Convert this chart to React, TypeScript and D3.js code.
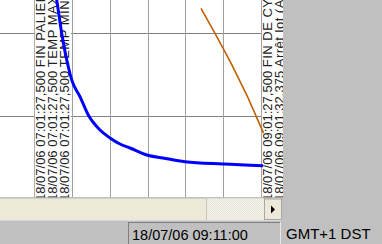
import React from "react";
import * as d3 from "d3";

const DAY = "2006-07-18T";

// Blue series (temperature, decay)
const blueTimes = ["07:10:15", "07:11:58", "07:14:36", "07:18:05", "07:19:53", "07:24:16", "07:28:39", "07:34:50", "07:40:07", "07:45:24", "07:50:41", "07:59:31", "08:08:08", "08:19:45", "08:39:50", "09:01:00"];
const blueValues = [264, 240, 200, 159.5, 143.6, 123.4, 101.3, 83.2, 73.6, 66.3, 61.5, 53.1, 49.5, 45, 42.2, 40.2];

// Orange series (ramp)
const orangeTimes = ["08:28:12", "09:00:35", "09:01:13"];
const orangeValues = [230, 83, 79.5];

// Events
const eventTimes = ["07:01:27.500", "09:01:27.500"];
const eventStamps = [
  ["18/07/06 07:01:27,500", "18/07/06 07:01:27,500", "18/07/06 07:01:27,500"],
  ["18/07/06 09:01:27,500", "18/07/06 09:01:32,375"],
];
const eventNames = [
  ["FIN PALIER", "TEMP MAX", "TEMP MIN"],
  ["FIN DE CYCLE", "Arrêt lot (Auto)"],
];

const yGridValues = [100, 200];
const domainStart = "06:42:00";
const domainEnd = "09:11:00";
const statusTime = "18/07/06 09:11:00";
const statusZone = "GMT+1 DST";

const parse = (t: string) => new Date(DAY + t);

export default function App() {
  const W = 382, H = 244;
  const plotW = 283, plotH = 197.5;
  const x = d3.scaleTime().domain([parse(domainStart), parse(domainEnd)]).range([0, 282]);
  const y = d3.scaleLinear().domain([0, 240]).range([199, 0]);
  const vTicks = x.ticks(d3.timeMinute.every(20) as any);

  const line = d3
    .line<[Date, number]>()
    .x((d) => x(d[0]))
    .y((d) => y(d[1]))
    .curve(d3.curveMonotoneX);

  const blue = blueTimes.map((t, i) => [parse(t), blueValues[i]] as [Date, number]);
  const orange = orangeTimes.map((t, i) => [parse(t), orangeValues[i]] as [Date, number]);

  const pitch = 12;
  const fontFam = "'Liberation Sans', Arial, sans-serif";

  return (
    <svg width={W} height={H} style={{ position: "absolute", left: 0, top: 0, display: "block" }}>
      <defs>
        <clipPath id="plotClip">
          <rect x={0} y={0} width={plotW} height={plotH} />
        </clipPath>
        <pattern id="dither" width={2} height={2} patternUnits="userSpaceOnUse">
          <rect width={2} height={2} fill="#f6f5ef" />
          <rect width={1} height={1} fill="#e6e3d2" />
          <rect x={1} y={1} width={1} height={1} fill="#e6e3d2" />
        </pattern>
      </defs>
      <rect x={0} y={0} width={W} height={H} fill="#c0c0c0" />
      <g clipPath="url(#plotClip)">
        <rect x={0} y={0} width={plotW} height={plotH} fill="#ffffff" />
        {yGridValues.map((v) => (
          <line key={"h" + v} x1={0} x2={plotW} y1={Math.round(y(v)) + 0.5} y2={Math.round(y(v)) + 0.5} stroke="#808080" strokeWidth={1} />
        ))}
        {vTicks.map((t, i) => (
          <line key={"v" + i} x1={Math.round(x(t)) + 0.5} x2={Math.round(x(t)) + 0.5} y1={0} y2={plotH} stroke="#a0a0a0" strokeWidth={1} />
        ))}
        {eventTimes.map((t, ei) => {
          const ex = x(parse(t));
          const stamps = eventStamps[ei];
          const left = ex - 2;
          const right = ex + 8.2 + pitch * (stamps.length - 1) + 2;
          return (
            <g key={"e" + ei}>
              <rect x={left} y={0} width={right - left} height={plotH} fill="#ffffff" />
              {stamps.map((s, li) => {
                const bx = ex + 8.2 + pitch * li;
                return (
                  <text
                    key={li}
                    transform={`translate(${bx},201) rotate(-90)`}
                    fontFamily={fontFam}
                    fontSize={13}
                    fill="#222"
                  >
                    {s + " "}
                    <tspan letterSpacing={0.5}>{eventNames[ei][li]}</tspan>
                  </text>
                );
              })}
            </g>
          );
        })}
        <path d={line(orange) || ""} fill="none" stroke="#c06000" strokeWidth={1.6} />
        <path d={line(blue) || ""} fill="none" stroke="#0000ff" strokeWidth={3} />
      </g>
      {/* plot bottom border */}
      <rect x={0} y={197.5} width={plotW} height={1} fill="#b0b0b0" />
      {/* scrollbar */}
      <rect x={0} y={198.5} width={282} height={21.5} fill="#ece9d8" />
      <rect x={207} y={198.5} width={57} height={21.5} fill="url(#dither)" />
      <line x1={206.5} x2={206.5} y1={198.5} y2={220} stroke="#c8c5b4" />
      <rect x={264.5} y={199} width={17} height={20.5} fill="#ece9d8" stroke="#a8a8a8" strokeWidth={1} />
      <path d="M271,205.5 L271,213.5 L275,209.5 Z" fill="#000" />
      <line x1={0} x2={282} y1={220.5} y2={220.5} stroke="#d8d8d8" />
      {/* status bar */}
      <line x1={128.5} x2={128.5} y1={222} y2={244} stroke="#808080" />
      <line x1={128} x2={281} y1={222.5} y2={222.5} stroke="#808080" />
      <line x1={280.5} x2={280.5} y1={222} y2={244} stroke="#e8e8e8" />
      <text x={132} y={239.5} fontFamily={fontFam} fontSize={14.5} fill="#000">
        {statusTime}
      </text>
      <text x={286} y={239} fontFamily={fontFam} fontSize={15} fill="#000">
        {statusZone}
      </text>
    </svg>
  );
}
